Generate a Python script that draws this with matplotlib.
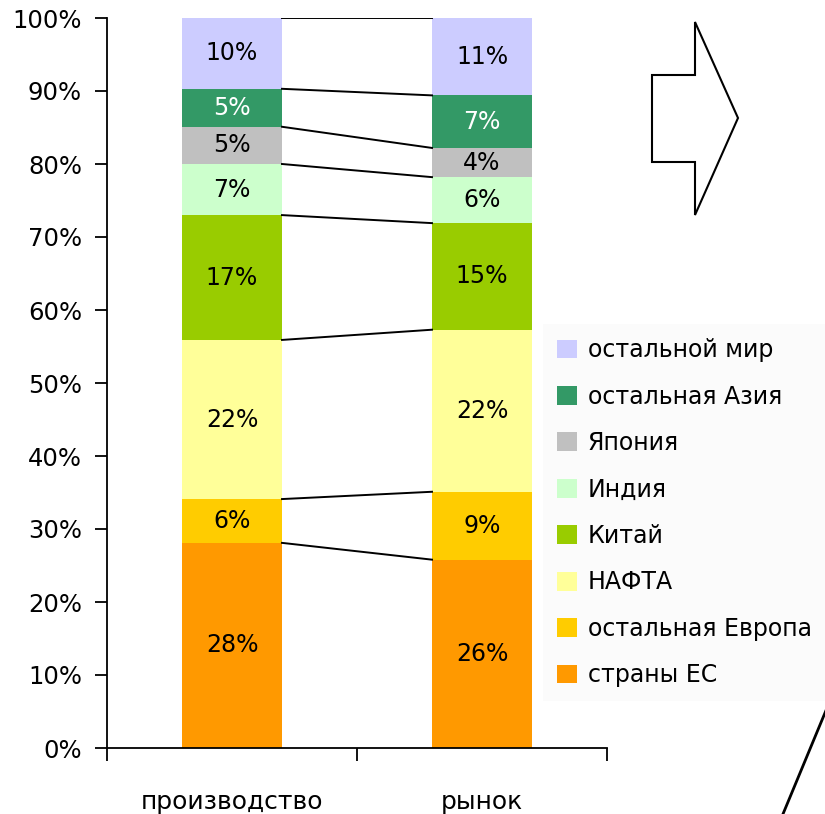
import matplotlib
matplotlib.use("Agg")
import matplotlib.pyplot as plt
from matplotlib.patches import Patch, Polygon
from matplotlib.lines import Line2D

# data (shares in %, bottom -> top)
groups = ["производство", "рынок"]
regions = ["страны ЕС", "остальная Европа", "НАФТА", "Китай",
           "Индия", "Япония", "остальная Азия", "остальной мир"]
production = [28.1, 6.0, 21.8, 17.1, 7.0, 5.1, 5.2, 9.7]
market = [25.8, 9.3, 22.2, 14.6, 6.3, 4.0, 7.2, 10.6]
colors = ["#FF9900", "#FFCC00", "#FFFF99", "#99CC00",
          "#CCFFCC", "#C0C0C0", "#339966", "#CCCCFF"]
text_colors = ["black"] * 6 + ["white", "black"]

plt.rcParams['font.family'] = ['DejaVu Sans']

fig = plt.figure(figsize=(8.25, 8.14), dpi=100)
ax = fig.add_axes([107/825, 1-748/814, 500/825, 730/814])

x = [0, 1]
w = 0.4
bottoms = [0, 0]
cum_prod = []
cum_mark = []
for i, reg in enumerate(regions):
    vals = [production[i], market[i]]
    ax.bar(x, vals, width=w, bottom=bottoms, color=colors[i], linewidth=0)
    for j in range(2):
        ax.text(x[j], bottoms[j] + vals[j] / 2, "%d%%" % round(vals[j]),
                ha="center", va="center", fontsize=17, color=text_colors[i])
    bottoms = [bottoms[0] + vals[0], bottoms[1] + vals[1]]
    cum_prod.append(bottoms[0])
    cum_mark.append(bottoms[1])

# connector lines between the bars
for a, b in zip(cum_prod, cum_mark):
    ax.plot([w / 2, 1 - w / 2], [a, b], color="black", lw=1.4)

ax.set_xlim(-0.5, 1.5)
ax.set_ylim(0, 100)
ax.set_yticks(range(0, 101, 10))
ax.set_yticklabels(["%d%%" % v for v in range(0, 101, 10)], fontsize=17.5)
ax.set_xticks([-0.5, 0.5, 1.5])
ax.set_xticklabels([])
ax.set_xticks(x, minor=True)
ax.set_xticklabels(groups, minor=True, fontsize=18)
ax.tick_params(axis="x", which="minor", length=0, pad=30)
ax.tick_params(axis="both", which="major", length=9, width=1.3, direction="out")
ax.tick_params(axis="y", pad=9)
for s in ["top", "right"]:
    ax.spines[s].set_visible(False)
for s in ["left", "bottom"]:
    ax.spines[s].set_linewidth(1.3)

# legend (top entry = top of the stack)
handles = [Patch(facecolor=colors[i], edgecolor="none") for i in range(len(regions) - 1, -1, -1)]
labels = [regions[i] for i in range(len(regions) - 1, -1, -1)]
leg = fig.legend(handles, labels, loc="upper left",
                 bbox_to_anchor=(543/825, 1 - 324/814), fontsize=17,
                 frameon=True, facecolor="#fafafa", edgecolor="none", fancybox=False,
                 handlelength=0.85, handleheight=0.85, handletextpad=0.45,
                 labelspacing=0.95, borderpad=0.6, borderaxespad=0)

# block arrow and stray line in the picture
arrow = [(652, 75), (695, 75), (695, 22), (738, 118), (695, 215), (695, 162), (652, 162)]
fig.add_artist(Polygon([(px/825, 1-py/814) for px, py in arrow], closed=True,
                       fill=False, edgecolor="black", lw=1.5, transform=fig.transFigure))
fig.add_artist(Line2D([783/825, 827/825], [1-814/814, 1-708/814], color="black", lw=2,
                      transform=fig.transFigure))

fig.savefig("out.png", dpi=100)
